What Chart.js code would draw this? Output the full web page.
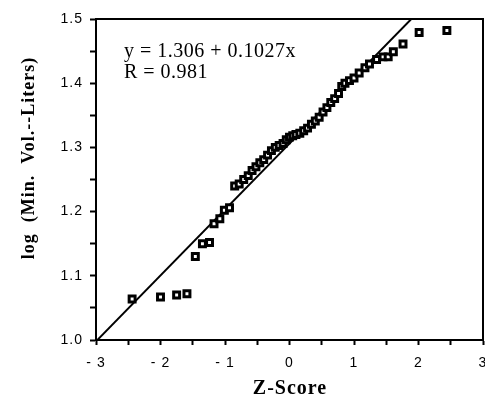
<!DOCTYPE html>
<html>
<head>
<meta charset="utf-8">
<script src="https://cdn.jsdelivr.net/npm/chart.js@4/dist/chart.umd.min.js"></script>
<style>
  html, body { margin: 0; padding: 0; background: #fff; }
  #wrap { width: 485px; height: 398px; }
</style>
</head>
<body>
<div id="wrap"><canvas id="grafico"></canvas></div>
<script>
// datos (Z-Score vs log del volumen)
const zScores = [-2.44, -2.00, -1.75, -1.59, -1.46, -1.35, -1.24, -1.17, -1.08, -1.01,
  -0.93, -0.85, -0.78, -0.71, -0.64, -0.58, -0.52, -0.46, -0.40, -0.34,
  -0.28, -0.22, -0.16, -0.10, -0.05, 0.00, 0.05, 0.10, 0.16, 0.22,
  0.28, 0.34, 0.40, 0.46, 0.52, 0.58, 0.64, 0.70, 0.76, 0.81,
  0.86, 0.93, 1.00, 1.08, 1.17, 1.24, 1.35, 1.45, 1.53, 1.61,
  1.76, 2.01, 2.44];
const logVolumes = [1.064, 1.067, 1.070, 1.072, 1.130, 1.150, 1.152, 1.181, 1.189, 1.202,
  1.206, 1.240, 1.243, 1.250, 1.256, 1.264, 1.270, 1.276, 1.281, 1.288,
  1.295, 1.300, 1.303, 1.306, 1.312, 1.316, 1.318, 1.320, 1.322, 1.326,
  1.330, 1.336, 1.341, 1.347, 1.355, 1.362, 1.370, 1.376, 1.384, 1.395,
  1.400, 1.404, 1.408, 1.416, 1.424, 1.430, 1.437, 1.441, 1.441, 1.449,
  1.461, 1.479, 1.482];

// recta de regresión
const fitIntercept = 1.306;
const fitSlope = 0.1027;
const fitR = 0.981;
const fitX = [-3, 3];

const xTicks = [-3, -2, -1, 0, 1, 2, 3];
const yTicks = [1.0, 1.1, 1.2, 1.3, 1.4, 1.5];

const puntos = zScores.map((z, i) => ({ x: z, y: logVolumes[i] }));
const recta = fitX.map(x => ({ x: x, y: fitIntercept + fitSlope * x }));

// espaciado de letras para las etiquetas de los ejes
const espaciado = {
  id: 'espaciado',
  beforeDraw(chart) {
    chart.ctx.letterSpacing = '1px';
  }
};

// textos encima del gráfico
const textos = {
  id: 'textos',
  afterDraw(chart) {
    const ctx = chart.ctx;
    ctx.save();
    ctx.fillStyle = '#000';
    ctx.letterSpacing = '0.5px';
    ctx.font = '20px "Liberation Serif"';
    ctx.textAlign = 'left';
    ctx.textBaseline = 'alphabetic';
    ctx.fillText('y = ' + fitIntercept.toFixed(3) + ' + ' + fitSlope + 'x', 124, 57);
    ctx.fillText('R = ' + fitR, 124, 78);

    // título eje X
    ctx.letterSpacing = '1px';
    ctx.font = 'bold 20px "Liberation Serif"';
    ctx.textAlign = 'center';
    ctx.textBaseline = 'middle';
    ctx.fillText('Z-Score', 290, 389);

    // título eje Y
    ctx.translate(29, 158);
    ctx.rotate(-Math.PI / 2);
    ctx.font = 'bold 18px "Liberation Serif"';
    ctx.fillText('log  (Min.  Vol.--Liters)', 0, 0);
    ctx.restore();
  }
};

const ctxGrafico = document.getElementById('grafico').getContext('2d');

new Chart(ctxGrafico, {
  type: 'scatter',
  data: {
    datasets: [{
      type: 'line',
      data: recta,
      borderColor: '#000',
      borderWidth: 2,
      pointRadius: 0,
      fill: false,
      order: 2
    }, {
      data: puntos,
      pointStyle: 'rect',
      pointRadius: 4.2,
      pointBorderWidth: 3,
      pointBackgroundColor: '#fff',
      pointBorderColor: '#000',
      order: 1
    }]
  },
  options: {
    responsive: true,
    maintainAspectRatio: false,
    animation: false,
    events: [],
    layout: { autoPadding: false, padding: { left: 0, top: 19, right: 2, bottom: 0 } },
    plugins: {
      legend: { display: false },
      tooltip: { enabled: false }
    },
    scales: {
      x: {
        type: 'linear',
        position: 'bottom',
        min: -3,
        max: 3,
        afterFit: s => { s.height = 58; s.paddingRight = 0; s.paddingLeft = 0; },
        ticks: {
          stepSize: 0.5,
          color: '#000',
          padding: 10,
          maxRotation: 0,
          autoSkip: false,
          font: { family: '"Liberation Sans"', size: 14 },
          callback: v => xTicks.includes(v) ? (v < 0 ? '- ' + Math.abs(v) : String(v)) : ''
        },
        grid: { drawOnChartArea: false, color: '#000', tickLength: 5, tickWidth: 2 },
        border: { display: true, color: '#000', width: 2 }
      },
      y: {
        type: 'linear',
        position: 'left',
        min: 1.0,
        max: 1.5,
        afterFit: s => { s.width = 96; },
        ticks: {
          stepSize: 0.05,
          color: '#000',
          padding: 7,
          autoSkip: false,
          font: { family: '"Liberation Sans"', size: 14 },
          callback: v => {
            const t = Math.round(v * 100) / 100;
            return yTicks.some(y => Math.abs(y - t) < 1e-6) ? t.toFixed(1) : '';
          }
        },
        grid: { drawOnChartArea: false, color: '#000', tickLength: 6, tickWidth: 2 },
        border: { display: true, color: '#000', width: 2 }
      },
      arriba: {
        type: 'linear',
        position: 'top',
        afterFit: s => { s.height = 0; },
        ticks: { display: false },
        grid: { display: false, drawTicks: false },
        border: { display: true, color: '#000', width: 2 }
      },
      derecha: {
        type: 'linear',
        position: 'right',
        afterFit: s => { s.width = 0; },
        ticks: { display: false },
        grid: { display: false, drawTicks: false },
        border: { display: true, color: '#000', width: 2 }
      }
    }
  },
  plugins: [espaciado, textos]
});
</script>
</body>
</html>
